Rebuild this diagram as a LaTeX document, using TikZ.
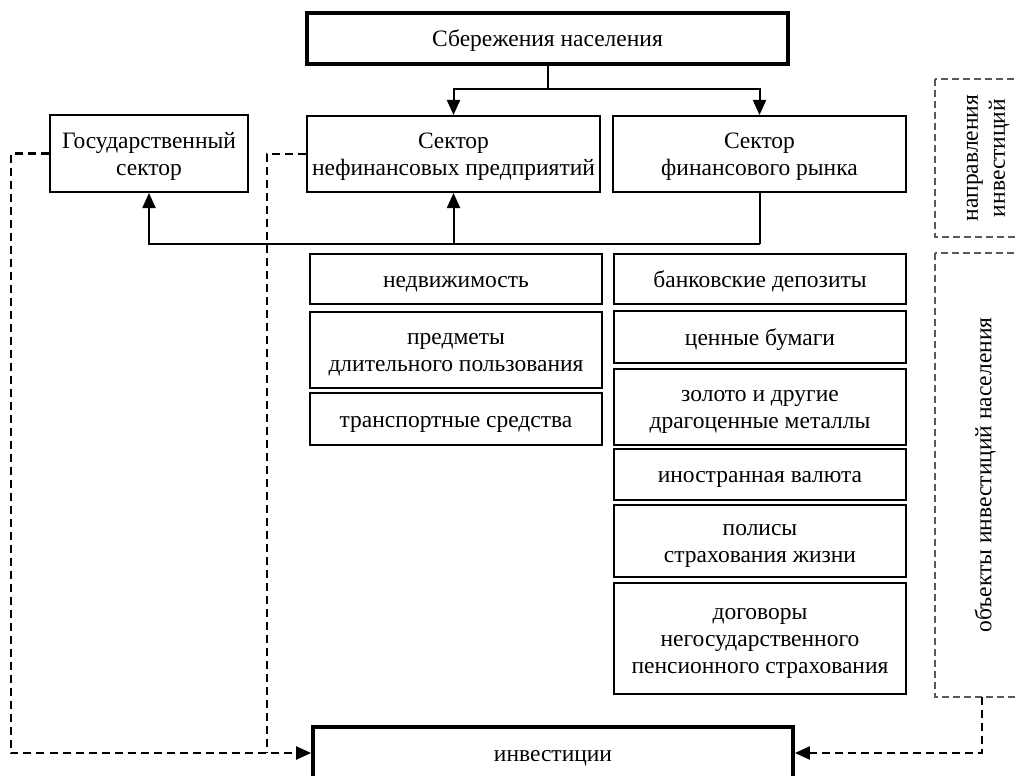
\documentclass[tikz,border=0pt]{standalone}
\usepackage{fontspec}
\setmainfont{Liberation Serif}
\usetikzlibrary{arrows.meta}
\newcommand{\tS}{\rule[-8.1pt]{0pt}{33.1pt}}
\newcommand{\bS}{\rule[-8.1pt]{0pt}{18.9pt}}
\begin{document}
\begin{tikzpicture}[x=1pt,y=-1pt,
  txt/.style={align=center, inner sep=0pt, font=\fontsize{23.5}{27}\selectfont},
  box/.style={txt, draw=black, line width=2pt, fill=white},
  thickbox/.style={box, line width=3.8pt},
  gbox/.style={txt, draw=black!65, line width=1.4pt, dash pattern=on 7pt off 4pt},
  conn/.style={line width=2pt, draw=black},
  arr/.style={conn, -{Triangle[length=15pt,width=13pt]}},
  dconn/.style={line width=2.2pt, draw=black, dash pattern=on 8pt off 5pt},
  darr/.style={dconn, -{Triangle[length=15pt,width=13pt]}}
]
\useasboundingbox (0,0) rectangle (1018,776);
\clip (0,0) rectangle (1018,776);
% top
\node[thickbox, minimum width=481pt, minimum height=51pt] (top) at (547.5,38.5) {\tS Сбережения населения\bS};
% sectors
\node[box, minimum width=198pt, minimum height=77pt] (gov) at (149,153.5) {\tS Государственный\\сектор\bS};
\node[box, minimum width=293pt, minimum height=76pt] (mid) at (453.5,154) {\tS Сектор\\нефинансовых предприятий\bS};
\node[box, minimum width=293pt, minimum height=76pt] (fin) at (759.5,154) {\tS Сектор\\финансового рынка\bS};
% middle column
\node[box, minimum width=292pt, minimum height=50pt] (m1) at (456,279) {\tS недвижимость\bS};
\node[box, minimum width=292pt, minimum height=76pt] (m2) at (456,350) {\tS предметы\\длительного пользования\bS};
\node[box, minimum width=292pt, minimum height=52pt] (m3) at (456,419) {\tS транспортные средства\bS};
% right column
\node[box, minimum width=292pt, minimum height=50pt] (r1) at (760,279) {\tS банковские депозиты\bS};
\node[box, minimum width=292pt, minimum height=52pt] (r2) at (760,337) {\tS ценные бумаги\bS};
\node[box, minimum width=292pt, minimum height=76pt] (r3) at (760,407) {\tS золото и другие\\драгоценные металлы\bS};
\node[box, minimum width=292pt, minimum height=51pt] (r4) at (760,474.5) {\tS иностранная валюта\bS};
\node[box, minimum width=292pt, minimum height=72pt] (r5) at (760,541) {\tS полисы\\страхования жизни\bS};
\node[box, minimum width=292pt, minimum height=111pt] (r6) at (760,638.5) {\tS договоры\\негосударственного\\пенсионного страхования\bS};
% bottom
\node[thickbox, minimum width=480pt, minimum height=52pt] (inv) at (553,753) {\tS инвестиции\bS};
% dashed side boxes
\node[gbox, rotate=90, minimum width=158pt, minimum height=96pt] (dir) at (983,158) {\tS направления\\инвестиций\bS};
\node[gbox, rotate=90, minimum width=444pt, minimum height=96pt] (obj) at (983,475) {\tS объекты инвестиций населения\bS};
% connectors
\coordinate (j) at (547.5,89);
\draw[conn] (top.south) -- (j);
\draw[arr] (j) -| (mid.north);
\draw[arr] (j) -| (fin.north);
\coordinate (k) at (759.5,244);
\draw[conn] (fin.south) -- (k);
\draw[arr] (k) -| (gov.south);
\draw[arr] (k) -| (mid.south);
% dashed
\coordinate (dl) at (11,753);
\coordinate (dm) at (267,753);
\coordinate (dr) at (982,697);
\draw[darr] (gov.west) -| (dl) -- (inv.west);
\draw[dconn] (mid.west) -| (dm);
\draw[darr] (dr) |- (inv.east);
\end{tikzpicture}
\end{document}
